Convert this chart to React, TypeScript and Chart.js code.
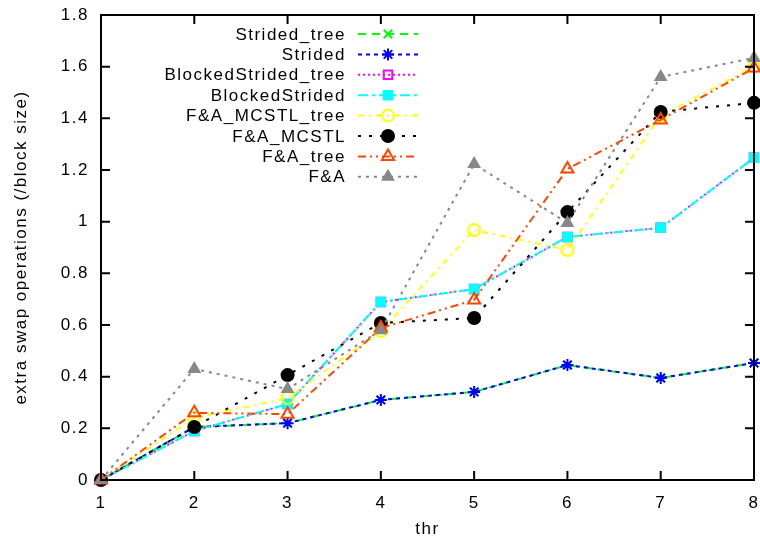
import React, { useEffect, useRef } from 'react';
import { Chart, registerables } from 'chart.js';
import { drawPoint } from 'chart.js/helpers';
Chart.register(...registerables);

const thr = [1, 2, 3, 4, 5, 6, 7, 8];
const labels = ['Strided_tree', 'Strided', 'BlockedStrided_tree', 'BlockedStrided', 'F&A_MCSTL_tree', 'F&A_MCSTL', 'F&A_tree', 'F&A'];
const stridedTree = [0, 0.205, 0.22, 0.31, 0.341, 0.445, 0.395, 0.453];
const strided = [0, 0.205, 0.22, 0.31, 0.341, 0.445, 0.395, 0.453];
const blockedStridedTree = [0, 0.19, 0.294, 0.689, 0.739, 0.941, 0.976, 1.247];
const blockedStrided = [0, 0.19, 0.294, 0.689, 0.739, 0.941, 0.976, 1.247];
const faMcstlTree = [0, 0.24, 0.317, 0.577, 0.968, 0.89, 1.41, 1.6];
const faMcstl = [0, 0.205, 0.406, 0.608, 0.627, 1.037, 1.425, 1.46];
const faTree = [0, 0.26, 0.255, 0.588, 0.697, 1.204, 1.394, 1.595];
const fa = [0, 0.43, 0.352, 0.58, 1.223, 0.995, 1.56, 1.634];
const yTicks = [0, 0.2, 0.4, 0.6, 0.8, 1, 1.2, 1.4, 1.6, 1.8];

const seriesValues = [stridedTree, strided, blockedStridedTree, blockedStrided, faMcstlTree, faMcstl, faTree, fa];
const colors = ['#00ff00', '#0000ff', '#ff00ff', '#00ffff', '#ffff00', '#000000', '#ff4500', '#888888'];
const dashes = [[8, 6], [4, 4], [2, 3], [10, 4, 3, 4], [6, 5, 2, 5], [3, 8], [8, 4, 2, 4, 2, 4], [3, 5]];
const pstyles = ['crossRot', 'star', 'rect', 'rect', 'circle', 'circle', 'triangle', 'triangle'];
const filled = [false, false, false, true, false, true, false, true];
const radii = [6, 6, 6, 6, 6, 6, 7, 6];

const FONT = '"Liberation Sans", Arial, sans-serif';
const SPACING = '1.5px';

const spacingPlugin = {
  id: 'spacing',
  beforeUpdate(chart: any) { chart.ctx.letterSpacing = SPACING; },
  beforeDraw(chart: any) { chart.ctx.letterSpacing = SPACING; },
};

const framePlugin = {
  id: 'frame',
  afterDraw(chart: any) {
    const ctx = chart.ctx;
    const { left, right, top, bottom } = chart.chartArea;
    const xs = chart.scales.x;
    const ys = chart.scales.y;
    ctx.save();
    ctx.strokeStyle = '#000';
    ctx.lineWidth = 2;
    ctx.setLineDash([]);
    ctx.strokeRect(left, top, right - left, bottom - top);
    const tl = 9;
    ctx.beginPath();
    thr.forEach((v) => {
      const px = xs.getPixelForValue(v);
      ctx.moveTo(px, bottom); ctx.lineTo(px, bottom - tl);
      ctx.moveTo(px, top); ctx.lineTo(px, top + tl);
    });
    yTicks.forEach((v) => {
      const py = ys.getPixelForValue(v);
      ctx.moveTo(left, py); ctx.lineTo(left + tl, py);
      ctx.moveTo(right, py); ctx.lineTo(right - tl, py);
    });
    ctx.stroke();

    // legend
    ctx.letterSpacing = SPACING;
    ctx.font = '17px ' + FONT;
    ctx.textAlign = 'right';
    ctx.textBaseline = 'middle';
    const textRight = 346;
    const x0 = 358, x1 = 418, xm = 388;
    const y0 = 34, dy = 20.4;
    labels.forEach((lab, i) => {
      const y = y0 + i * dy;
      ctx.fillStyle = '#000';
      ctx.fillText(lab, textRight, y + 1);
      ctx.strokeStyle = colors[i];
      ctx.lineWidth = 2;
      ctx.setLineDash(dashes[i]);
      ctx.beginPath();
      ctx.moveTo(x0, y); ctx.lineTo(x1, y);
      ctx.stroke();
      ctx.setLineDash([]);
      ctx.fillStyle = filled[i] ? colors[i] : 'rgba(0,0,0,0)';
      ctx.strokeStyle = colors[i];
      ctx.lineWidth = 2;
      drawPoint(ctx, { pointStyle: pstyles[i], radius: radii[i], borderWidth: 2, rotation: 0 } as any, xm, y);
    });
    ctx.restore();
  },
};

export default function App() {
  const ref = useRef<HTMLCanvasElement>(null);
  useEffect(() => {
    document.body.style.margin = '0';
    const datasets = seriesValues.map((vals, i) => ({
      label: labels[i],
      data: vals.map((v, j) => ({ x: thr[j], y: v })),
      borderColor: colors[i],
      backgroundColor: filled[i] ? colors[i] : 'rgba(0,0,0,0)',
      borderWidth: 2,
      borderDash: dashes[i],
      pointStyle: pstyles[i],
      pointRadius: radii[i],
      pointBorderWidth: 2,
      pointBorderColor: colors[i],
      pointBackgroundColor: filled[i] ? colors[i] : 'rgba(0,0,0,0)',
      tension: 0,
      fill: false,
      clip: false,
      order: seriesValues.length - 1 - i,
    }));
    const chart = new Chart(ref.current as HTMLCanvasElement, {
      type: 'line',
      data: { datasets },
      options: {
        animation: false,
        responsive: false,
        layout: { autoPadding: false, padding: { top: 15, right: 6, left: 0, bottom: 0 } },
        plugins: { legend: { display: false }, tooltip: { enabled: false } },
        scales: {
          x: {
            type: 'linear',
            min: 1,
            max: 8,
            afterFit: (s: any) => { s.height = 60; s.paddingLeft = 0; s.paddingRight = 0; },
            afterBuildTicks: (s: any) => { s.ticks = thr.map((v) => ({ value: v })); },
            grid: { display: false, drawTicks: false },
            border: { display: false },
            ticks: { color: '#000', font: { family: FONT, size: 17 }, padding: 13, maxRotation: 0 },
            title: { display: true, text: 'thr', color: '#000', font: { family: FONT, size: 17 }, padding: { top: 2, bottom: 0 } },
          },
          y: {
            type: 'linear',
            min: 0,
            max: 1.8,
            afterFit: (s: any) => { s.width = 101; s.paddingTop = 0; s.paddingBottom = 0; },
            afterBuildTicks: (s: any) => { s.ticks = yTicks.map((v) => ({ value: v })); },
            grid: { display: false, drawTicks: false },
            border: { display: false },
            ticks: {
              color: '#000',
              font: { family: FONT, size: 17 },
              padding: 12,
              callback: (v: any) => String(Number(Number(v).toFixed(1))),
            },
            title: { display: true, text: 'extra swap operations (/block size)', color: '#000', font: { family: FONT, size: 17 }, padding: { top: 11, bottom: 0 } },
          },
        },
      },
      plugins: [spacingPlugin, framePlugin],
    } as any);
    return () => chart.destroy();
  }, []);
  return (
    <div style={{ width: 760, height: 540 }}>
      <canvas ref={ref} width={760} height={540} style={{ display: 'block' }} />
    </div>
  );
}
